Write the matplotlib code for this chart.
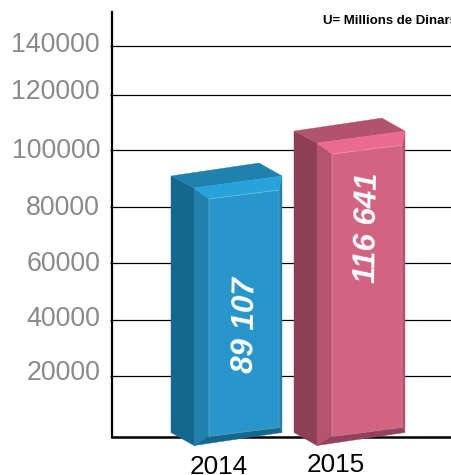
import matplotlib
matplotlib.use("Agg")
import matplotlib.pyplot as plt
from matplotlib.patches import Polygon

plt.rcParams["font.family"] = ["Liberation Sans", "DejaVu Sans"]

# data, heights
categories = ["2014", "2015"]
bar_tops = [90800, 106700]
bar_labels = ["89 107", "116 641"]
tick_labels = ["20000", "40000", "60000", "80000", "100000", "120000", "140000"]
tick_label_pos = [22000, 41200, 60800, 80600, 100800, 121600, 138300]
grid_pos = [20000, 39800, 60000, 79800, 100000, 119500, 136800]

blue = dict(top="#1F82AC", bevel="#27A3DC", dark="#14688F", side="#2180AC", front="#2896CB", bottom="#14688F")
pink = dict(top="#B1536F", bevel="#EB6A90", dark="#8E3F58", side="#B65470", front="#D26381", bottom="#96405B")
colors = [blue, pink]

W, H = 452, 475
PX_X = 123.0      # pixels per category step
PX_Y = 354.0      # value units per pixel
LEFT = 112
RIGHT = 452
TOP = 12
BASE = 437

fig = plt.figure(figsize=(W / 100, H / 100), dpi=100)
ax = fig.add_axes([LEFT / W, (H - BASE) / H, (RIGHT - LEFT) / W, (BASE - TOP) / H])
ax.set_xlim((LEFT - 171) / PX_X, (RIGHT - 171) / PX_X)
ax.set_ylim(-4.5 * PX_Y, 420.5 * PX_Y)


def pt(i, base, dx, dy):
    # offset in pixels from a bar corner, y down as in the image
    return (i + dx / PX_X, base - dy * PX_Y)


def draw_bar(i, top, c):
    faces = [
        (c["dark"], [pt(i, top, 0, 0), pt(i, top, 23, 12), pt(i, 0, 23, 13), pt(i, 0, 0, 0)]),
        (c["side"], [pt(i, top, 23, 12), pt(i, top, 38, 23), pt(i, 0, 38, 4), pt(i, 0, 23, 13)]),
        (c["front"], [pt(i, top, 38, 23), pt(i, top, 108, 14), pt(i, 0, 108, -5), pt(i, 0, 38, 4)]),
        (c["side"], [pt(i, top, 108, 14), pt(i, top, 111, 0), pt(i, 0, 111, 0), pt(i, 0, 108, -5)]),
        (c["bottom"], [pt(i, 0, 23, 13), pt(i, 0, 38, 4), pt(i, 0, 108, -5), pt(i, 0, 111, 0)]),
        (c["top"], [pt(i, top, 0, 0), pt(i, top, 88, -13), pt(i, top, 111, 0), pt(i, top, 23, 12)]),
        (c["bevel"], [pt(i, top, 23, 12), pt(i, top, 111, 0), pt(i, top, 108, 14), pt(i, top, 38, 23)]),
    ]
    for col, verts in faces:
        ax.add_patch(Polygon(verts, closed=True, facecolor=col, edgecolor=col, lw=0.3,
                             zorder=4, clip_on=False))
    # thin light edges round the front face
    edge = [pt(i, top, 38, 23), pt(i, top, 108, 14), pt(i, 0, 108, -5), pt(i, 0, 38, 4)]
    ax.add_patch(Polygon(edge, closed=True, fill=False, edgecolor="white", alpha=0.25, lw=0.6,
                         zorder=5, clip_on=False))


ax.hlines(grid_pos, (110 - 171) / PX_X, (RIGHT - 171) / PX_X, color="black", lw=0.9, zorder=2, clip_on=False)

for i, (top, c) in enumerate(zip(bar_tops, colors)):
    draw_bar(i, top, c)

# value labels on the front faces
ax.text(*pt(0, 0, 75, -107), bar_labels[0], rotation=89, color="white", fontsize=22.5, fontweight="bold",
        fontstyle="italic", ha="center", va="center", zorder=6)
ax.text(*pt(1, 0, 74, -205), bar_labels[1], rotation=89, color="white", fontsize=22.5, fontweight="bold",
        fontstyle="italic", ha="center", va="center", zorder=6)

# category labels sit a little off the bars in the picture
ax.text(*pt(0, 0, 48, 34), categories[0], color="black", fontsize=18.8, ha="center", va="center", clip_on=False)
ax.text(*pt(1, 0, 42, 32), categories[1], color="black", fontsize=18.8, ha="center", va="center", clip_on=False)

ax.set_xticks([])
ax.set_yticks(tick_label_pos, tick_labels)
ax.tick_params(axis="y", length=0, pad=8.6, labelsize=19.3, labelcolor="#8A8A8C")

for s in ["top", "right"]:
    ax.spines[s].set_visible(False)
ax.spines["left"].set_linewidth(1.6)
ax.spines["bottom"].set_linewidth(1.8)

fig.text(323 / W, 1 - 21 / H, "U= Millions de Dinars", fontsize=9.5, fontweight="bold", color="black",
         ha="left", va="center")

fig.savefig("out.png", dpi=100)
